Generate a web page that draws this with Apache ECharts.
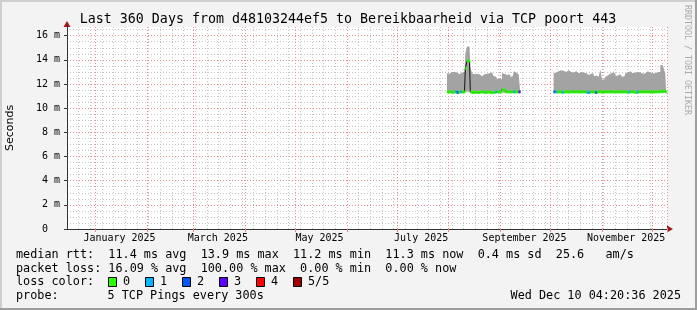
<!DOCTYPE html>
<html><head><meta charset="utf-8">
<script src="https://cdn.jsdelivr.net/npm/echarts@6/dist/echarts.min.js"></script>
<style>html,body{margin:0;padding:0;background:#f3f3f3}#c{width:697px;height:310px}</style>
</head><body><div id="c"></div>
<script>
// ---- data ----
const startDate = [2024, 11, 15];           // first day on the axis (Dec 15 2024)
const dayCount = 360;
const monthNames = ['January','February','March','April','May','June','July','August','September','October','November','December'];
const labelMonths = [1, 3, 5, 7, 9, 11];    // months that get a label (centred mid-month)
const yTickValues = [0, 2, 4, 6, 8, 10, 12, 14, 16];
const lossColors = ['#26ff00', '#00b8ff', '#0059ff', '#5e00ff', '#ff0000', '#a00000'];
const lossLabels = ['0', '1', '2', '3', '4', '5/5'];

// segment 1: from 2025-07-31 (day index 228)
const seg1Start = 228;
const seg1Max = [12.9,12.85,13.0,13.05,13.0,12.95,12.9,12.8,12.95,12.9,13.0,14.5,15.1,15.1,13.4,12.9,12.8,12.85,12.75,12.8,12.65,12.7,12.8,12.85,12.75,12.9,12.95,12.9,12.65,12.6,12.4,12.45,12.4,12.9,12.85,12.75,12.7,12.8,12.6,12.65,13.05,12.95,12.8,12.9];
const seg1Min = [11.25,11.25,11.25,11.2,11.25,11.25,11.2,11.25,11.25,11.25,11.25,11.3,11.4,11.4,11.25,11.2,11.2,11.25,11.2,11.2,11.25,11.25,11.2,11.2,11.25,11.25,11.2,11.2,11.2,11.25,11.25,11.25,11.25,11.3,11.3,11.25,11.25,11.25,11.25,11.25,11.25,11.25,11.25,11.25];
const seg1Med = [11.35,11.35,11.35,11.3,11.35,11.35,11.3,11.35,11.35,11.35,11.35,13.3,13.9,13.9,11.35,11.3,11.3,11.35,11.3,11.3,11.35,11.35,11.3,11.3,11.35,11.35,11.3,11.3,11.3,11.35,11.35,11.35,11.35,11.55,11.5,11.35,11.35,11.35,11.35,11.35,11.35,11.35,11.35,11.35];
const seg1Loss = [0,0,0,0,0,1,2,0,1,0,0,0,0,0,0,0,0,0,0,0,0,0,0,0,0,0,0,0,0,1,0,0,0,0,0,0,0,0,0,0,1,0,0,3];

// segment 2: from 2025-10-03 (day index 292)
const seg2Start = 292;
const seg2Max = [12.9,12.95,13.05,13.0,13.15,13.1,13.05,13.0,13.15,13.1,13.0,12.95,13.1,13.05,12.9,12.85,13.0,12.95,12.85,12.9,12.75,12.7,12.85,12.9,12.65,12.7,12.6,12.45,13.2,12.35,12.4,12.6,12.7,12.85,12.9,12.95,12.9,12.65,12.7,12.8,12.75,12.6,12.65,12.9,12.95,13.05,13.05,12.9,12.95,13.0,13.0,12.95,12.9,12.85,12.9,13.0,13.05,12.95,12.95,12.9,12.9,12.85,13.0,13.0,13.6,13.55,13.3,12.9];
const seg2Min = [11.25,11.25,11.25,11.25,11.25,11.2,11.25,11.25,11.25,11.25,11.25,11.25,11.25,11.25,11.25,11.25,11.25,11.25,11.25,11.25,11.2,11.2,11.25,11.25,11.25,11.2,11.25,11.25,11.25,11.25,11.25,11.25,11.25,11.25,11.25,11.25,11.25,11.25,11.25,11.25,11.25,11.25,11.25,11.25,11.2,11.25,11.25,11.25,11.25,11.2,11.25,11.25,11.25,11.25,11.25,11.25,11.25,11.25,11.25,11.25,11.25,11.25,11.25,11.25,11.25,11.25,11.25,11.25];
const seg2Med = [11.35,11.35,11.35,11.35,11.35,11.3,11.35,11.35,11.35,11.35,11.35,11.35,11.35,11.35,11.35,11.35,11.35,11.35,11.35,11.35,11.3,11.3,11.35,11.35,11.35,11.3,11.35,11.35,11.35,11.35,11.35,11.35,11.35,11.35,11.35,11.35,11.35,11.35,11.35,11.35,11.35,11.35,11.35,11.35,11.3,11.35,11.35,11.35,11.35,11.3,11.35,11.35,11.35,11.35,11.35,11.35,11.35,11.35,11.35,11.35,11.35,11.35,11.35,11.35,11.4,11.4,11.4,11.35];
const seg2Loss = [2,1,0,0,0,1,0,0,0,0,0,0,0,0,0,0,0,0,0,0,1,1,0,0,0,2,0,0,0,0,0,0,0,0,0,0,0,0,0,0,0,0,0,0,0,1,0,0,0,0,1,0,0,0,0,0,0,0,0,0,0,0,0,0,0,0,0,0];

const titleText = 'Last 360 Days from d48103244ef5 to Bereikbaarheid via TCP poort 443';
const legendLines = [
  'median rtt:  11.4 ms avg  13.9 ms max  11.2 ms min  11.3 ms now  0.4 ms sd  25.6   am/s',
  'packet loss: 16.09 % avg  100.00 % max  0.00 % min  0.00 % now'
];
const probeLabel = 'probe:';
const probeText = '5 TCP Pings every 300s';
const stampText = 'Wed Dec 10 04:20:36 2025';

// ---- build ----
const pad = n => String(n).padStart(2, '0');
const days = [];
const base = Date.UTC(startDate[0], startDate[1], startDate[2]);
for (let i = 0; i < dayCount; i++) {
  const d = new Date(base + i * 86400000);
  days.push(d.getUTCFullYear() + '-' + pad(d.getUTCMonth() + 1) + '-' + pad(d.getUTCDate()));
}
const segs = [
  { start: seg1Start, max: seg1Max, min: seg1Min, med: seg1Med, loss: seg1Loss },
  { start: seg2Start, max: seg2Max, min: seg2Min, med: seg2Med, loss: seg2Loss }
];
const minFull = new Array(dayCount).fill('-');
const bandFull = new Array(dayCount).fill('-');
const medFull = new Array(dayCount).fill('-');
const lossPts = [];
segs.forEach(s => {
  s.max.forEach((v, k) => {
    const i = s.start + k;
    minFull[i] = s.min[k];
    bandFull[i] = +(v - s.min[k]).toFixed(3);
    medFull[i] = s.med[k];
    lossPts.push({ value: [i, s.med[k]], itemStyle: { color: lossColors[s.loss[k]] } });
  });
});
const isMonthStart = v => v.slice(8) === '01';
const isSunday = v => { const p = v.split('-'); return new Date(Date.UTC(+p[0], +p[1] - 1, +p[2])).getUTCDay() === 0 && !isMonthStart(v); };
const isLabelDay = v => v.slice(8) === '15' && labelMonths.includes(+v.slice(5, 7));

const mono = 'DejaVu Sans Mono';
const redGrid = '#e88e8e';
const greyGrid = '#c6c6c6';
const ymax = 16.72;

const graphics = [];
graphics.push({ type: 'text', x: 348, y: 19.5, style: { text: titleText, font: '13.3px "' + mono + '"', fill: '#000', textAlign: 'center', textVerticalAlign: 'middle' } });
graphics.push({ type: 'text', x: 687.5, y: 60, rotation: -Math.PI / 2, style: { text: 'RRDTOOL / TOBI OETIKER', font: '8.3px "' + mono + '"', fill: '#aaaaaa', textAlign: 'center', textVerticalAlign: 'middle' } });
graphics.push({ type: 'text', x: 10, y: 128, rotation: Math.PI / 2, style: { text: 'Seconds', font: '11px "DejaVu Sans"', fill: '#000', textAlign: 'center', textVerticalAlign: 'middle' } });
graphics.push({ type: 'polygon', shape: { points: [[63.5, 27], [70.5, 27], [67, 21]] }, style: { fill: '#a01818' } });
graphics.push({ type: 'polygon', shape: { points: [[667, 225.5], [667, 232.5], [673, 229]] }, style: { fill: '#a01818' } });
const lf = '11.8px "' + mono + '"';
legendLines.forEach((t, i) => graphics.push({ type: 'text', x: 16, y: 255 + i * 13.7, style: { text: t, font: lf, fill: '#000', textVerticalAlign: 'middle' } }));
graphics.push({ type: 'text', x: 16, y: 282.2, style: { text: 'loss color:', font: lf, fill: '#000', textVerticalAlign: 'middle' } });
lossColors.forEach((c, i) => {
  graphics.push({ type: 'rect', shape: { x: 108.5 + i * 37, y: 277.5, width: 8, height: 9 }, style: { fill: c, stroke: '#000', lineWidth: 1 } });
  graphics.push({ type: 'text', x: 123 + i * 37, y: 282.2, style: { text: lossLabels[i], font: lf, fill: '#000', textVerticalAlign: 'middle' } });
});
graphics.push({ type: 'text', x: 16, y: 296, style: { text: probeLabel, font: lf, fill: '#000', textVerticalAlign: 'middle' } });
graphics.push({ type: 'text', x: 107.5, y: 296, style: { text: probeText, font: lf, fill: '#000', textVerticalAlign: 'middle' } });
graphics.push({ type: 'text', x: 681, y: 296, style: { text: stampText, font: lf, fill: '#000', textAlign: 'right', textVerticalAlign: 'middle' } });
// frame shading
graphics.push({ type: 'rect', shape: { x: 0, y: 0, width: 697, height: 2 }, style: { fill: '#cfcfcf' } });
graphics.push({ type: 'rect', shape: { x: 0, y: 0, width: 2, height: 310 }, style: { fill: '#cfcfcf' } });
graphics.push({ type: 'rect', shape: { x: 0, y: 308, width: 697, height: 2 }, style: { fill: '#9e9e9e' } });
graphics.push({ type: 'rect', shape: { x: 695, y: 0, width: 2, height: 310 }, style: { fill: '#9e9e9e' } });

const chart = echarts.init(document.getElementById('c'), null, { renderer: 'canvas' });
chart.setOption({
  animation: false,
  backgroundColor: '#f3f3f3',
  grid: { left: 67, right: 30, top: 27, bottom: 81, show: true, backgroundColor: '#ffffff', borderWidth: 0 },
  xAxis: [
    {
      type: 'category', data: days, boundaryGap: true, z: 1,
      axisLine: { show: true, lineStyle: { color: '#333', width: 1 } },
      axisTick: { show: true, interval: (i, v) => isMonthStart(v), length: 3, lineStyle: { color: '#e08a8a' } },
      axisLabel: { interval: (i, v) => isLabelDay(v), formatter: v => monthNames[+v.slice(5, 7) - 1] + ' ' + v.slice(0, 4), fontFamily: mono, fontSize: 10, color: '#000', margin: 4 },
      splitLine: { show: true, interval: (i, v) => isMonthStart(v), lineStyle: { color: redGrid, type: [1, 2], width: 1 } }
    },
    {
      type: 'category', data: days, boundaryGap: true, position: 'bottom', z: 0,
      axisLine: { show: false }, axisTick: { show: false }, axisLabel: { show: false },
      splitLine: { show: true, interval: (i, v) => isSunday(v), lineStyle: { color: greyGrid, type: [1, 2], width: 1 } }
    }
  ],
  yAxis: [
    {
      type: 'value', min: yTickValues[0], max: ymax, interval: yTickValues[1] - yTickValues[0], position: 'left', z: 1,
      axisLine: { show: true, lineStyle: { color: '#333', width: 1 } },
      axisTick: { show: true, length: 3, lineStyle: { color: '#333' } },
      axisLabel: { showMaxLabel: false, formatter: v => v === 0 ? '0  ' : v + ' m', fontFamily: mono, fontSize: 10, color: '#000', margin: 7 },
      splitLine: { show: true, showMinLine: false, showMaxLine: false, lineStyle: { color: redGrid, type: [1, 2], width: 1 } }
    },
    {
      type: 'value', min: yTickValues[0], max: ymax, interval: 0.5, position: 'left', z: 0,
      axisLine: { show: false }, axisTick: { show: false }, axisLabel: { show: false },
      splitLine: { show: true, showMinLine: false, showMaxLine: false, lineStyle: { color: greyGrid, type: [1, 2], width: 1 } }
    }
  ],
  series: [
    { type: 'line', stack: 'smoke', data: minFull, step: 'middle', symbol: 'none', lineStyle: { width: 0, opacity: 0 }, silent: true, z: 2 },
    { type: 'line', stack: 'smoke', data: bandFull, step: 'middle', symbol: 'none', lineStyle: { width: 0, opacity: 0 }, areaStyle: { color: '#a3a3a3', opacity: 1 }, silent: true, z: 2 },
    { type: 'line', data: medFull, step: 'middle', symbol: 'none', lineStyle: { width: 1, color: '#111' }, silent: true, z: 3 },
    { type: 'scatter', data: lossPts, symbol: 'rect', symbolSize: [2.2, 3], silent: true, z: 4 }
  ],
  graphic: graphics
});
</script>
</body></html>
